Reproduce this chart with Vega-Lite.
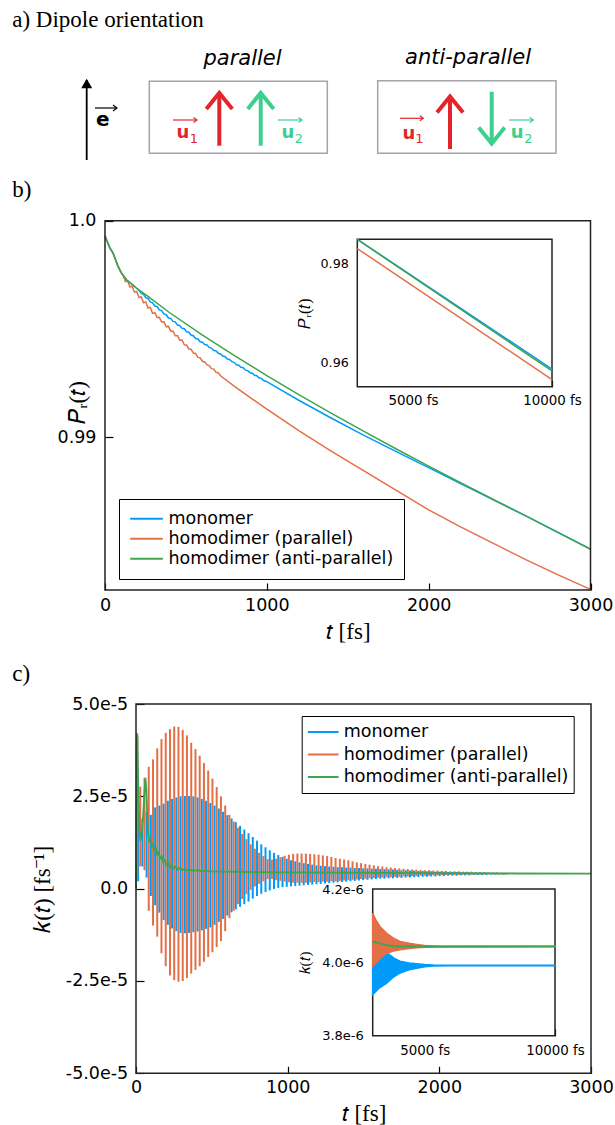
{
"$schema": "https://vega.github.io/schema/vega-lite/v6.json",
"width": 615, "height": 1125, "autosize": {"type": "none"}, "padding": 0, "background": "white",
"config": {
 "view": {"stroke": null},
 "axis": {"grid": false, "domain": false, "zindex": 1, "labelFont": "DejaVu Sans", "labelColor": "black", "tickColor": "black", "tickWidth": 1.2, "titleFont": "Liberation Serif", "titleColor": "black", "titleFontWeight": "normal", "labelFlush": false, "labelOverlap": false},
 "legend": {"labelFont": "DejaVu Sans", "labelColor": "black", "labelLimit": 400}
},
"datasets": {
 "arrows": [
  {"seg":"r1s","who":"u1","kind":"dipole","o":0,"x":21.93,"y":5.43},{"seg":"r1s","who":"u1","kind":"dipole","o":1,"x":21.93,"y":10.7},
  {"seg":"r1h","who":"u1","kind":"dipole","o":0,"x":20.63,"y":9.1},{"seg":"r1h","who":"u1","kind":"dipole","o":1,"x":21.93,"y":10.7},{"seg":"r1h","who":"u1","kind":"dipole","o":2,"x":23.23,"y":9.1},
  {"seg":"g1s","who":"u2","kind":"dipole","o":0,"x":26.07,"y":5.43},{"seg":"g1s","who":"u2","kind":"dipole","o":1,"x":26.07,"y":10.7},
  {"seg":"g1h","who":"u2","kind":"dipole","o":0,"x":24.77,"y":9.1},{"seg":"g1h","who":"u2","kind":"dipole","o":1,"x":26.07,"y":10.7},{"seg":"g1h","who":"u2","kind":"dipole","o":2,"x":27.37,"y":9.1},
  {"seg":"r2s","who":"u1","kind":"dipole","o":0,"x":45.0,"y":5.1},{"seg":"r2s","who":"u1","kind":"dipole","o":1,"x":45.0,"y":10.35},
  {"seg":"r2h","who":"u1","kind":"dipole","o":0,"x":43.7,"y":8.75},{"seg":"r2h","who":"u1","kind":"dipole","o":1,"x":45.0,"y":10.35},{"seg":"r2h","who":"u1","kind":"dipole","o":2,"x":46.3,"y":8.75},
  {"seg":"g2s","who":"u2","kind":"dipole","o":0,"x":49.17,"y":10.83},{"seg":"g2s","who":"u2","kind":"dipole","o":1,"x":49.17,"y":5.65},
  {"seg":"g2h","who":"u2","kind":"dipole","o":0,"x":47.87,"y":7.25},{"seg":"g2h","who":"u2","kind":"dipole","o":1,"x":49.17,"y":5.65},{"seg":"g2h","who":"u2","kind":"dipole","o":2,"x":50.47,"y":7.25},
  {"seg":"es","who":"e","kind":"field","o":0,"x":8.67,"y":4.0},{"seg":"es","who":"e","kind":"field","o":1,"x":8.67,"y":12.0},
  {"seg":"ev","who":"e","kind":"vec","o":0,"x":9.5,"y":9.2},{"seg":"ev","who":"e","kind":"vec","o":1,"x":11.7,"y":9.2},
  {"seg":"eh","who":"e","kind":"vec","o":0,"x":11.3,"y":9.5},{"seg":"eh","who":"e","kind":"vec","o":1,"x":11.7,"y":9.2},{"seg":"eh","who":"e","kind":"vec","o":2,"x":11.3,"y":8.9},
  {"seg":"u1a","who":"u1","kind":"vec","o":0,"x":17.3,"y":8.0},{"seg":"u1a","who":"u1","kind":"vec","o":1,"x":19.7,"y":8.0},
  {"seg":"u1ah","who":"u1","kind":"vec","o":0,"x":19.35,"y":8.25},{"seg":"u1ah","who":"u1","kind":"vec","o":1,"x":19.7,"y":8.0},{"seg":"u1ah","who":"u1","kind":"vec","o":2,"x":19.35,"y":7.75},
  {"seg":"u2a","who":"u2","kind":"vec","o":0,"x":27.8,"y":8.0},{"seg":"u2a","who":"u2","kind":"vec","o":1,"x":30.2,"y":8.0},
  {"seg":"u2ah","who":"u2","kind":"vec","o":0,"x":29.85,"y":8.25},{"seg":"u2ah","who":"u2","kind":"vec","o":1,"x":30.2,"y":8.0},{"seg":"u2ah","who":"u2","kind":"vec","o":2,"x":29.85,"y":7.75},
  {"seg":"u1b","who":"u1","kind":"vec","o":0,"x":40.0,"y":8.17},{"seg":"u1b","who":"u1","kind":"vec","o":1,"x":42.33,"y":8.17},
  {"seg":"u1bh","who":"u1","kind":"vec","o":0,"x":41.98,"y":8.42},{"seg":"u1bh","who":"u1","kind":"vec","o":1,"x":42.33,"y":8.17},{"seg":"u1bh","who":"u1","kind":"vec","o":2,"x":41.98,"y":7.92},
  {"seg":"u2b","who":"u2","kind":"vec","o":0,"x":50.9,"y":8.0},{"seg":"u2b","who":"u2","kind":"vec","o":1,"x":53.33,"y":8.0},
  {"seg":"u2bh","who":"u2","kind":"vec","o":0,"x":52.98,"y":8.25},{"seg":"u2bh","who":"u2","kind":"vec","o":1,"x":53.33,"y":8.0},{"seg":"u2bh","who":"u2","kind":"vec","o":2,"x":52.98,"y":7.75}
 ],
 "dlabels": [
  {"kind":"title","who":"e","x":24.25,"y":13.5,"text":"parallel"},
  {"kind":"title","who":"e","x":46.8,"y":13.6,"text":"anti-parallel"},
  {"kind":"field","who":"e","x":10.27,"y":7.4,"text":"e"},
  {"kind":"vector","who":"u1","x":18.3,"y":6.2,"text":"u"},
  {"kind":"vector","who":"u2","x":28.8,"y":6.17,"text":"u"},
  {"kind":"vector","who":"u1","x":40.9,"y":6.07,"text":"u"},
  {"kind":"vector","who":"u2","x":51.72,"y":6.2,"text":"u"},
  {"kind":"sub","who":"u1","x":19.4,"y":5.7,"text":"1"},
  {"kind":"sub","who":"u2","x":29.9,"y":5.73,"text":"2"},
  {"kind":"sub","who":"u1","x":41.95,"y":5.73,"text":"1"},
  {"kind":"sub","who":"u2","x":52.85,"y":5.7,"text":"2"}
 ],
 "boxes": [{"x":14.93,"x2":32.73,"y":4.67,"y2":11.87},{"x":37.77,"x2":55.6,"y":4.67,"y2":11.93}],
 "b_mono": [
  {"t":0,"P":0.99929},{"t":30,"P":0.99874},{"t":50,"P":0.9985},{"t":80,"P":0.9979},{"t":100,"P":0.9976},{"t":134,"P":0.99726},{"t":165,"P":0.99707},{"t":196,"P":0.99688},
  {"t":210,"P":0.99679},{"t":224,"P":0.99664},{"t":238,"P":0.9966},{"t":252,"P":0.99645},{"t":266,"P":0.99641},{"t":280,"P":0.99625},{"t":294,"P":0.99621},{"t":308,"P":0.99606},{"t":322,"P":0.99604},{"t":336,"P":0.99588},{"t":350,"P":0.99585},{"t":364,"P":0.9957},{"t":378,"P":0.99566},{"t":392,"P":0.99551},{"t":406,"P":0.99549},{"t":420,"P":0.99535},{"t":434,"P":0.99533},{"t":448,"P":0.99518},{"t":462,"P":0.99516},{"t":476,"P":0.99503},{"t":490,"P":0.99501},{"t":504,"P":0.99487},{"t":518,"P":0.99485},{"t":532,"P":0.99472},{"t":546,"P":0.99469},{"t":560,"P":0.99456},{"t":574,"P":0.99454},{"t":588,"P":0.99441},{"t":602,"P":0.99439},{"t":616,"P":0.99428},{"t":630,"P":0.99426},{"t":644,"P":0.99415},{"t":658,"P":0.99412},{"t":672,"P":0.99401},{"t":686,"P":0.99399},{"t":700,"P":0.99388},{"t":714,"P":0.99385},{"t":728,"P":0.99375},{"t":742,"P":0.99372},{"t":756,"P":0.99361},{"t":770,"P":0.99359},{"t":784,"P":0.99349},{"t":798,"P":0.99346},{"t":812,"P":0.99335},{"t":826,"P":0.99333},{"t":840,"P":0.99323},{"t":854,"P":0.99321},{"t":868,"P":0.9931},{"t":882,"P":0.99308},{"t":896,"P":0.99298},{"t":910,"P":0.99296},{"t":924,"P":0.99286},{"t":938,"P":0.99284},{"t":952,"P":0.99274},{"t":966,"P":0.99272},{"t":980,"P":0.99262},{"t":994,"P":0.99259},
  {"t":1200,"P":0.9917},{"t":1400,"P":0.99088},{"t":1600,"P":0.99009},{"t":1800,"P":0.98934},{"t":2000,"P":0.9886},{"t":2200,"P":0.98785},{"t":2400,"P":0.98711},{"t":2600,"P":0.98637},{"t":2800,"P":0.98561},{"t":3000,"P":0.98484}
 ],
 "b_par": [
  {"t":0,"P":0.99929},{"t":30,"P":0.99874},{"t":50,"P":0.9985},{"t":80,"P":0.9979},{"t":100,"P":0.9976},
  {"t":112,"P":0.99747},{"t":126,"P":0.99719},{"t":140,"P":0.99722},{"t":154,"P":0.99694},{"t":168,"P":0.99698},{"t":182,"P":0.9967},{"t":196,"P":0.99673},{"t":210,"P":0.99645},{"t":224,"P":0.99649},{"t":238,"P":0.99621},{"t":252,"P":0.99625},{"t":266,"P":0.99597},{"t":280,"P":0.996},{"t":294,"P":0.99572},{"t":308,"P":0.99575},{"t":322,"P":0.99553},{"t":336,"P":0.99554},{"t":350,"P":0.99532},{"t":364,"P":0.99533},{"t":378,"P":0.99511},{"t":392,"P":0.99512},{"t":406,"P":0.9949},{"t":420,"P":0.99491},{"t":434,"P":0.99469},{"t":448,"P":0.9947},{"t":462,"P":0.99448},{"t":476,"P":0.99449},{"t":490,"P":0.99427},{"t":504,"P":0.99426},{"t":518,"P":0.99408},{"t":532,"P":0.99407},{"t":546,"P":0.99389},{"t":560,"P":0.99387},{"t":574,"P":0.99369},{"t":588,"P":0.99367},{"t":602,"P":0.99351},{"t":616,"P":0.99348},{"t":630,"P":0.99334},{"t":644,"P":0.99331},{"t":658,"P":0.99317},{"t":672,"P":0.99315},{"t":686,"P":0.993},{"t":700,"P":0.99298},{"t":714,"P":0.99284},
  {"t":800,"P":0.99235},{"t":900,"P":0.99182},{"t":1000,"P":0.9913},{"t":1200,"P":0.9903},{"t":1400,"P":0.98935},{"t":1600,"P":0.98845},{"t":1800,"P":0.98755},{"t":2000,"P":0.98665},{"t":2200,"P":0.98585},{"t":2400,"P":0.9851},{"t":2600,"P":0.98435},{"t":2800,"P":0.98365},{"t":3000,"P":0.98298}
 ],
 "b_anti": [
  {"t":0,"P":0.99929},{"t":30,"P":0.99874},{"t":50,"P":0.9985},{"t":80,"P":0.9979},{"t":100,"P":0.9976},{"t":134,"P":0.99726},{"t":165,"P":0.99707},{"t":196,"P":0.99688},{"t":257,"P":0.99655},{"t":400,"P":0.99575},{"t":600,"P":0.99473},{"t":800,"P":0.99377},{"t":1000,"P":0.99285},{"t":1200,"P":0.99196},{"t":1400,"P":0.9911},{"t":1600,"P":0.99027},{"t":1800,"P":0.98946},{"t":2000,"P":0.98867},{"t":2200,"P":0.98789},{"t":2400,"P":0.98713},{"t":2600,"P":0.98637},{"t":2800,"P":0.9856},{"t":3000,"P":0.98483}
 ],
 "bi_mono": [{"t":3000,"P":0.98484},{"t":10000,"P":0.95867}],
 "bi_par": [{"t":3000,"P":0.98298},{"t":10000,"P":0.95654}],
 "bi_anti": [{"t":3000,"P":0.98483},{"t":10000,"P":0.95827}],
 "c_mono": [
  {"t":14,"lo":0.2e-5,"hi":2.3e-5},{"t":42,"lo":0.6e-5,"hi":1.9e-5},{"t":70,"lo":0.3e-5,"hi":2.1e-5},{"t":98,"lo":-0.2e-5,"hi":2.0e-5},{"t":126,"lo":-0.45e-5,"hi":2.2e-5},{"t":154,"lo":-0.65e-5,"hi":2.25e-5},{"t":182,"lo":-0.85e-5,"hi":2.3e-5},{"t":210,"lo":-0.98e-5,"hi":2.38e-5},{"t":238,"lo":-1.08e-5,"hi":2.43e-5},{"t":266,"lo":-1.15e-5,"hi":2.47e-5},{"t":294,"lo":-1.2e-5,"hi":2.5e-5},{"t":322,"lo":-1.21e-5,"hi":2.51e-5},{"t":350,"lo":-1.2e-5,"hi":2.51e-5},{"t":378,"lo":-1.18e-5,"hi":2.5e-5},{"t":406,"lo":-1.16e-5,"hi":2.47e-5},{"t":434,"lo":-1.13e-5,"hi":2.43e-5},{"t":462,"lo":-1.09e-5,"hi":2.38e-5},{"t":490,"lo":-1.05e-5,"hi":2.32e-5},{"t":518,"lo":-0.98e-5,"hi":2.25e-5},{"t":546,"lo":-0.9e-5,"hi":2.17e-5},{"t":574,"lo":-0.82e-5,"hi":2.08e-5},{"t":602,"lo":-0.73e-5,"hi":1.99e-5},{"t":630,"lo":-0.64e-5,"hi":1.9e-5},{"t":658,"lo":-0.56e-5,"hi":1.8e-5},{"t":686,"lo":-0.49e-5,"hi":1.7e-5},{"t":714,"lo":-0.42e-5,"hi":1.6e-5},{"t":742,"lo":-0.35e-5,"hi":1.5e-5},{"t":770,"lo":-0.27e-5,"hi":1.4e-5},{"t":798,"lo":-0.2e-5,"hi":1.3e-5},{"t":826,"lo":-0.14e-5,"hi":1.2e-5},{"t":854,"lo":-0.09e-5,"hi":1.12e-5},{"t":882,"lo":-0.05e-5,"hi":1.04e-5},{"t":910,"lo":-0.01e-5,"hi":0.97e-5},{"t":938,"lo":0.02e-5,"hi":0.91e-5},{"t":966,"lo":0.04e-5,"hi":0.86e-5},{"t":994,"lo":0.05e-5,"hi":0.81e-5},{"t":1022,"lo":0.06e-5,"hi":0.77e-5},{"t":1050,"lo":0.07e-5,"hi":0.74e-5},{"t":1078,"lo":0.08e-5,"hi":0.71e-5},{"t":1106,"lo":0.09e-5,"hi":0.69e-5},{"t":1134,"lo":0.1e-5,"hi":0.67e-5},{"t":1162,"lo":0.11e-5,"hi":0.65e-5},{"t":1190,"lo":0.12e-5,"hi":0.63e-5},{"t":1218,"lo":0.13e-5,"hi":0.62e-5},{"t":1246,"lo":0.14e-5,"hi":0.61e-5},{"t":1274,"lo":0.15e-5,"hi":0.6e-5},{"t":1302,"lo":0.16e-5,"hi":0.59e-5},{"t":1330,"lo":0.17e-5,"hi":0.58e-5},{"t":1358,"lo":0.18e-5,"hi":0.58e-5},{"t":1386,"lo":0.19e-5,"hi":0.57e-5},{"t":1414,"lo":0.2e-5,"hi":0.57e-5},{"t":1442,"lo":0.21e-5,"hi":0.56e-5},{"t":1470,"lo":0.22e-5,"hi":0.56e-5},{"t":1498,"lo":0.23e-5,"hi":0.55e-5},{"t":1526,"lo":0.24e-5,"hi":0.55e-5},{"t":1554,"lo":0.25e-5,"hi":0.54e-5},{"t":1582,"lo":0.26e-5,"hi":0.54e-5},{"t":1610,"lo":0.27e-5,"hi":0.53e-5},{"t":1638,"lo":0.27e-5,"hi":0.53e-5},{"t":1666,"lo":0.28e-5,"hi":0.52e-5},{"t":1694,"lo":0.28e-5,"hi":0.52e-5},{"t":1722,"lo":0.29e-5,"hi":0.51e-5},{"t":1750,"lo":0.29e-5,"hi":0.5e-5},{"t":1778,"lo":0.3e-5,"hi":0.5e-5},{"t":1806,"lo":0.3e-5,"hi":0.49e-5},{"t":1834,"lo":0.31e-5,"hi":0.49e-5},{"t":1862,"lo":0.31e-5,"hi":0.48e-5},{"t":1890,"lo":0.32e-5,"hi":0.48e-5},{"t":1918,"lo":0.32e-5,"hi":0.47e-5},{"t":1946,"lo":0.33e-5,"hi":0.47e-5},{"t":1974,"lo":0.33e-5,"hi":0.46e-5},{"t":2002,"lo":0.34e-5,"hi":0.46e-5},{"t":2030,"lo":0.34e-5,"hi":0.46e-5},{"t":2058,"lo":0.35e-5,"hi":0.45e-5},{"t":2086,"lo":0.35e-5,"hi":0.45e-5},{"t":2114,"lo":0.35e-5,"hi":0.45e-5},{"t":2142,"lo":0.36e-5,"hi":0.44e-5},{"t":2170,"lo":0.36e-5,"hi":0.44e-5},{"t":2198,"lo":0.36e-5,"hi":0.44e-5},{"t":2226,"lo":0.37e-5,"hi":0.43e-5},{"t":2254,"lo":0.37e-5,"hi":0.43e-5},{"t":2282,"lo":0.37e-5,"hi":0.43e-5},{"t":2310,"lo":0.37e-5,"hi":0.43e-5},{"t":2338,"lo":0.38e-5,"hi":0.42e-5},{"t":2366,"lo":0.38e-5,"hi":0.42e-5},{"t":2394,"lo":0.38e-5,"hi":0.42e-5},{"t":2422,"lo":0.38e-5,"hi":0.42e-5},{"t":2450,"lo":0.39e-5,"hi":0.41e-5}
 ],
 "c_par": [
  {"t":8,"lo":0.3e-5,"hi":4.2e-5},{"t":28,"lo":0.6e-5,"hi":2.76e-5},{"t":56,"lo":0.5e-5,"hi":3.0e-5},{"t":84,"lo":-0.6e-5,"hi":3.3e-5},{"t":112,"lo":-1.0e-5,"hi":3.5e-5},{"t":140,"lo":-1.3e-5,"hi":3.8e-5},{"t":168,"lo":-1.75e-5,"hi":4.05e-5},{"t":196,"lo":-2.1e-5,"hi":4.22e-5},{"t":224,"lo":-2.35e-5,"hi":4.32e-5},{"t":252,"lo":-2.48e-5,"hi":4.39e-5},{"t":280,"lo":-2.52e-5,"hi":4.38e-5},{"t":308,"lo":-2.5e-5,"hi":4.3e-5},{"t":336,"lo":-2.42e-5,"hi":4.15e-5},{"t":364,"lo":-2.3e-5,"hi":3.95e-5},{"t":392,"lo":-2.2e-5,"hi":3.78e-5},{"t":420,"lo":-2.1e-5,"hi":3.6e-5},{"t":448,"lo":-1.98e-5,"hi":3.4e-5},{"t":476,"lo":-1.85e-5,"hi":3.2e-5},{"t":504,"lo":-1.72e-5,"hi":2.98e-5},{"t":532,"lo":-1.58e-5,"hi":2.75e-5},{"t":560,"lo":-1.42e-5,"hi":2.5e-5},{"t":588,"lo":-1.15e-5,"hi":2.25e-5},{"t":616,"lo":-0.8e-5,"hi":2.0e-5},{"t":644,"lo":-0.6e-5,"hi":1.82e-5},{"t":672,"lo":-0.42e-5,"hi":1.65e-5},{"t":700,"lo":-0.28e-5,"hi":1.48e-5},{"t":728,"lo":-0.15e-5,"hi":1.34e-5},{"t":756,"lo":-0.03e-5,"hi":1.2e-5},{"t":784,"lo":0.06e-5,"hi":1.08e-5},{"t":812,"lo":0.13e-5,"hi":0.97e-5},{"t":840,"lo":0.2e-5,"hi":0.88e-5},{"t":868,"lo":0.26e-5,"hi":0.8e-5},{"t":896,"lo":0.26e-5,"hi":0.79e-5},{"t":924,"lo":0.23e-5,"hi":0.81e-5},{"t":952,"lo":0.21e-5,"hi":0.85e-5},{"t":980,"lo":0.19e-5,"hi":0.89e-5},{"t":1008,"lo":0.17e-5,"hi":0.92e-5},{"t":1036,"lo":0.16e-5,"hi":0.94e-5},{"t":1064,"lo":0.16e-5,"hi":0.95e-5},{"t":1092,"lo":0.16e-5,"hi":0.95e-5},{"t":1120,"lo":0.16e-5,"hi":0.95e-5},{"t":1148,"lo":0.17e-5,"hi":0.94e-5},{"t":1176,"lo":0.18e-5,"hi":0.93e-5},{"t":1204,"lo":0.18e-5,"hi":0.92e-5},{"t":1232,"lo":0.19e-5,"hi":0.9e-5},{"t":1260,"lo":0.19e-5,"hi":0.88e-5},{"t":1288,"lo":0.2e-5,"hi":0.86e-5},{"t":1316,"lo":0.2e-5,"hi":0.83e-5},{"t":1344,"lo":0.21e-5,"hi":0.81e-5},{"t":1372,"lo":0.22e-5,"hi":0.79e-5},{"t":1400,"lo":0.23e-5,"hi":0.77e-5},{"t":1428,"lo":0.24e-5,"hi":0.74e-5},{"t":1456,"lo":0.25e-5,"hi":0.71e-5},{"t":1484,"lo":0.26e-5,"hi":0.69e-5},{"t":1512,"lo":0.27e-5,"hi":0.67e-5},{"t":1540,"lo":0.28e-5,"hi":0.65e-5},{"t":1568,"lo":0.29e-5,"hi":0.63e-5},{"t":1596,"lo":0.3e-5,"hi":0.61e-5},{"t":1624,"lo":0.3e-5,"hi":0.6e-5},{"t":1652,"lo":0.31e-5,"hi":0.58e-5},{"t":1680,"lo":0.31e-5,"hi":0.57e-5},{"t":1708,"lo":0.32e-5,"hi":0.56e-5},{"t":1736,"lo":0.32e-5,"hi":0.55e-5},{"t":1764,"lo":0.33e-5,"hi":0.54e-5},{"t":1792,"lo":0.33e-5,"hi":0.53e-5},{"t":1820,"lo":0.34e-5,"hi":0.52e-5},{"t":1848,"lo":0.34e-5,"hi":0.51e-5},{"t":1876,"lo":0.35e-5,"hi":0.51e-5},{"t":1904,"lo":0.35e-5,"hi":0.5e-5},{"t":1932,"lo":0.35e-5,"hi":0.5e-5},{"t":1960,"lo":0.36e-5,"hi":0.49e-5},{"t":1988,"lo":0.36e-5,"hi":0.49e-5},{"t":2016,"lo":0.36e-5,"hi":0.48e-5},{"t":2044,"lo":0.37e-5,"hi":0.48e-5},{"t":2072,"lo":0.37e-5,"hi":0.47e-5},{"t":2100,"lo":0.37e-5,"hi":0.47e-5},{"t":2128,"lo":0.37e-5,"hi":0.47e-5},{"t":2156,"lo":0.38e-5,"hi":0.46e-5},{"t":2184,"lo":0.38e-5,"hi":0.46e-5},{"t":2212,"lo":0.38e-5,"hi":0.46e-5},{"t":2240,"lo":0.38e-5,"hi":0.45e-5},{"t":2268,"lo":0.38e-5,"hi":0.45e-5},{"t":2296,"lo":0.39e-5,"hi":0.45e-5},{"t":2324,"lo":0.39e-5,"hi":0.44e-5},{"t":2352,"lo":0.39e-5,"hi":0.44e-5},{"t":2380,"lo":0.39e-5,"hi":0.44e-5},{"t":2408,"lo":0.39e-5,"hi":0.43e-5},{"t":2436,"lo":0.39e-5,"hi":0.43e-5},{"t":2464,"lo":0.4e-5,"hi":0.43e-5},{"t":2492,"lo":0.4e-5,"hi":0.43e-5},{"t":2520,"lo":0.4e-5,"hi":0.42e-5},{"t":2548,"lo":0.4e-5,"hi":0.42e-5},{"t":2576,"lo":0.4e-5,"hi":0.42e-5},{"t":2604,"lo":0.4e-5,"hi":0.42e-5}
 ],
 "c_anti": [
  {"t":0,"k":0},{"t":6,"k":4.2e-5},{"t":10,"k":4.1e-5},{"t":16,"k":2.5e-5},{"t":22,"k":1.6e-5},{"t":30,"k":1.3e-5},{"t":38,"k":1.5e-5},{"t":46,"k":1.9e-5},{"t":54,"k":2.5e-5},{"t":62,"k":3.0e-5},{"t":68,"k":2.7e-5},{"t":74,"k":2.0e-5},{"t":80,"k":1.5e-5},{"t":88,"k":1.25e-5},{"t":96,"k":1.35e-5},{"t":104,"k":1.15e-5},{"t":112,"k":1.2e-5},{"t":120,"k":1.05e-5},{"t":130,"k":1.1e-5},{"t":140,"k":0.92e-5},{"t":150,"k":0.98e-5},{"t":160,"k":0.82e-5},{"t":170,"k":0.87e-5},{"t":180,"k":0.72e-5},{"t":190,"k":0.77e-5},{"t":200,"k":0.64e-5},{"t":212,"k":0.7e-5},{"t":224,"k":0.58e-5},{"t":236,"k":0.64e-5},{"t":248,"k":0.55e-5},{"t":260,"k":0.6e-5},{"t":275,"k":0.52e-5},{"t":290,"k":0.56e-5},{"t":305,"k":0.5e-5},{"t":320,"k":0.53e-5},{"t":340,"k":0.49e-5},{"t":360,"k":0.51e-5},{"t":380,"k":0.48e-5},{"t":400,"k":0.5e-5},{"t":430,"k":0.47e-5},{"t":460,"k":0.49e-5},{"t":500,"k":0.47e-5},{"t":600,"k":0.46e-5},{"t":800,"k":0.45e-5},{"t":1000,"k":0.44e-5},{"t":1500,"k":0.43e-5},{"t":2000,"k":0.42e-5},{"t":2500,"k":0.41e-5},{"t":3000,"k":0.405e-5}
 ],
 "ci_mono": [
  {"t":3000,"lo":3.912e-6,"hi":3.99e-6},{"t":3250,"lo":3.93e-6,"hi":4.01e-6},{"t":3538,"lo":3.943e-6,"hi":4.027e-6},{"t":3800,"lo":3.96e-6,"hi":4.012e-6},{"t":4048,"lo":3.971e-6,"hi":4.003e-6},{"t":4400,"lo":3.98e-6,"hi":3.998e-6},{"t":4690,"lo":3.984e-6,"hi":3.996e-6},{"t":5000,"lo":3.988e-6,"hi":3.994e-6},{"t":5327,"lo":3.99e-6,"hi":3.993e-6},{"t":6000,"lo":3.991e-6,"hi":3.992e-6},{"t":10000,"lo":3.991e-6,"hi":3.992e-6}
 ],
 "ci_par": [
  {"t":3000,"lo":3.989e-6,"hi":4.134e-6},{"t":3150,"lo":4.0e-6,"hi":4.112e-6},{"t":3287,"lo":4.011e-6,"hi":4.097e-6},{"t":3538,"lo":4.025e-6,"hi":4.079e-6},{"t":3800,"lo":4.031e-6,"hi":4.066e-6},{"t":4048,"lo":4.034e-6,"hi":4.057e-6},{"t":4400,"lo":4.038e-6,"hi":4.052e-6},{"t":4690,"lo":4.04e-6,"hi":4.049e-6},{"t":5000,"lo":4.041e-6,"hi":4.046e-6},{"t":5500,"lo":4.042e-6,"hi":4.044e-6},{"t":10000,"lo":4.043e-6,"hi":4.044e-6}
 ],
 "ci_anti": [
  {"t":3000,"k":4.057e-6},{"t":3200,"k":4.053e-6},{"t":3400,"k":4.049e-6},{"t":3600,"k":4.046e-6},{"t":3800,"k":4.044e-6},{"t":4000,"k":4.043e-6},{"t":10000,"k":4.043e-6}
 ]
},
"layer": [
 {
  "layer": [
   {"data": {"name": "boxes"}, "mark": {"type": "rect", "filled": false, "stroke": "#a4a4ac", "strokeWidth": 1.5},
    "encoding": {
     "x": {"field": "x", "type": "quantitative", "scale": {"domain": [0, 61.5], "range": [0, 615], "nice": false, "zero": false},
       "axis": {"orient": "top", "offset": 0, "labels": false, "ticks": false, "domain": false, "title": "a) Dipole orientation", "titleX": 11.7, "titleY": 26.7, "titleAlign": "left", "titleAnchor": "start", "titleBaseline": "alphabetic", "titleFontSize": 23}},
     "x2": {"field": "x2"},
     "y": {"field": "y", "type": "quantitative", "scale": {"domain": [0, 20], "range": [200, 0], "nice": false, "zero": false}, "axis": null},
     "y2": {"field": "y2"}}},
   {"data": {"name": "arrows"}, "transform": [{"filter": "datum.kind == 'dipole'"}],
    "mark": {"type": "line", "strokeWidth": 4, "strokeJoin": "miter", "strokeCap": "butt"},
    "encoding": {
     "x": {"field": "x", "type": "quantitative", "scale": {"domain": [0, 61.5], "range": [0, 615], "nice": false, "zero": false}, "axis": null},
     "y": {"field": "y", "type": "quantitative", "scale": {"domain": [0, 20], "range": [200, 0], "nice": false, "zero": false}, "axis": null},
     "detail": {"field": "seg"}, "order": {"field": "o", "type": "quantitative"},
     "color": {"field": "who", "type": "nominal", "scale": {"domain": ["u1", "u2", "e"], "range": ["#e3262c", "#3ccf8e", "#000000"]}, "legend": null}}},
   {"data": {"name": "arrows"}, "transform": [{"filter": "datum.kind == 'field'"}],
    "mark": {"type": "line", "strokeWidth": 1.8},
    "encoding": {
     "x": {"field": "x", "type": "quantitative", "scale": {"domain": [0, 61.5], "range": [0, 615], "nice": false, "zero": false}, "axis": null},
     "y": {"field": "y", "type": "quantitative", "scale": {"domain": [0, 20], "range": [200, 0], "nice": false, "zero": false}, "axis": null},
     "detail": {"field": "seg"}, "order": {"field": "o", "type": "quantitative"},
     "color": {"field": "who", "type": "nominal", "scale": {"domain": ["u1", "u2", "e"], "range": ["#e3262c", "#3ccf8e", "#000000"]}, "legend": null}}},
   {"data": {"name": "arrows"}, "transform": [{"filter": "datum.kind == 'field' && datum.o == 1"}],
    "mark": {"type": "point", "shape": "triangle-up", "filled": true, "size": 121, "opacity": 1, "yOffset": 3.5},
    "encoding": {
     "x": {"field": "x", "type": "quantitative", "scale": {"domain": [0, 61.5], "range": [0, 615], "nice": false, "zero": false}, "axis": null},
     "y": {"field": "y", "type": "quantitative", "scale": {"domain": [0, 20], "range": [200, 0], "nice": false, "zero": false}, "axis": null},
     "color": {"field": "who", "type": "nominal", "scale": {"domain": ["u1", "u2", "e"], "range": ["#e3262c", "#3ccf8e", "#000000"]}, "legend": null}}},
   {"data": {"name": "arrows"}, "transform": [{"filter": "datum.kind == 'vec'"}],
    "mark": {"type": "line", "strokeWidth": 1.2},
    "encoding": {
     "x": {"field": "x", "type": "quantitative", "scale": {"domain": [0, 61.5], "range": [0, 615], "nice": false, "zero": false}, "axis": null},
     "y": {"field": "y", "type": "quantitative", "scale": {"domain": [0, 20], "range": [200, 0], "nice": false, "zero": false}, "axis": null},
     "detail": {"field": "seg"}, "order": {"field": "o", "type": "quantitative"},
     "color": {"field": "who", "type": "nominal", "scale": {"domain": ["u1", "u2", "e"], "range": ["#e3262c", "#3ccf8e", "#000000"]}, "legend": null}}},
   {"data": {"name": "dlabels"}, "transform": [{"filter": "datum.kind == 'title'"}],
    "mark": {"type": "text", "font": "DejaVu Sans", "fontStyle": "italic", "fontSize": 21, "align": "center", "baseline": "alphabetic"},
    "encoding": {
     "x": {"field": "x", "type": "quantitative", "scale": {"domain": [0, 61.5], "range": [0, 615], "nice": false, "zero": false}, "axis": null},
     "y": {"field": "y", "type": "quantitative", "scale": {"domain": [0, 20], "range": [200, 0], "nice": false, "zero": false}, "axis": null},
     "text": {"field": "text"},
     "color": {"field": "who", "type": "nominal", "scale": {"domain": ["u1", "u2", "e"], "range": ["#e3262c", "#3ccf8e", "#000000"]}, "legend": null}}},
   {"data": {"name": "dlabels"}, "transform": [{"filter": "datum.kind == 'field'"}],
    "mark": {"type": "text", "font": "DejaVu Sans", "fontWeight": "bold", "fontSize": 20, "align": "center", "baseline": "alphabetic"},
    "encoding": {
     "x": {"field": "x", "type": "quantitative", "scale": {"domain": [0, 61.5], "range": [0, 615], "nice": false, "zero": false}, "axis": null},
     "y": {"field": "y", "type": "quantitative", "scale": {"domain": [0, 20], "range": [200, 0], "nice": false, "zero": false}, "axis": null},
     "text": {"field": "text"},
     "color": {"field": "who", "type": "nominal", "scale": {"domain": ["u1", "u2", "e"], "range": ["#e3262c", "#3ccf8e", "#000000"]}, "legend": null}}},
   {"data": {"name": "dlabels"}, "transform": [{"filter": "datum.kind == 'vector'"}],
    "mark": {"type": "text", "font": "DejaVu Sans", "fontWeight": "bold", "fontSize": 18, "align": "center", "baseline": "alphabetic"},
    "encoding": {
     "x": {"field": "x", "type": "quantitative", "scale": {"domain": [0, 61.5], "range": [0, 615], "nice": false, "zero": false}, "axis": null},
     "y": {"field": "y", "type": "quantitative", "scale": {"domain": [0, 20], "range": [200, 0], "nice": false, "zero": false}, "axis": null},
     "text": {"field": "text"},
     "color": {"field": "who", "type": "nominal", "scale": {"domain": ["u1", "u2", "e"], "range": ["#e3262c", "#3ccf8e", "#000000"]}, "legend": null}}},
   {"data": {"name": "dlabels"}, "transform": [{"filter": "datum.kind == 'sub'"}],
    "mark": {"type": "text", "font": "DejaVu Sans", "fontSize": 13, "align": "center", "baseline": "alphabetic"},
    "encoding": {
     "x": {"field": "x", "type": "quantitative", "scale": {"domain": [0, 61.5], "range": [0, 615], "nice": false, "zero": false}, "axis": null},
     "y": {"field": "y", "type": "quantitative", "scale": {"domain": [0, 20], "range": [200, 0], "nice": false, "zero": false}, "axis": null},
     "text": {"field": "text"},
     "color": {"field": "who", "type": "nominal", "scale": {"domain": ["u1", "u2", "e"], "range": ["#e3262c", "#3ccf8e", "#000000"]}, "legend": null}}}
  ],
  "resolve": {"axis": {"x": "independent", "y": "independent"}}
 },
 {
  "layer": [
   {"data": {"name": "b_mono"}, "mark": {"type": "line", "strokeWidth": 1.5},
    "encoding": {
     "x": {"field": "t", "type": "quantitative", "scale": {"domain": [0, 3000], "range": [105, 590.5], "nice": false, "zero": false},
       "axis": {"orient": "bottom", "offset": -535, "values": [0, 1000, 2000, 3000], "format": "d", "tickSize": -7, "labelPadding": 13.5, "labelFontSize": 17.5, "title": "𝑡 [fs]", "titleX": 347.7, "titleY": 48, "titleAlign": "center", "titleBaseline": "alphabetic", "titleFontSize": 23}},
     "y": {"field": "P", "type": "quantitative", "scale": {"domain": [0.98295, 1], "range": [590, 220.7], "nice": false, "zero": false},
       "axis": {"orient": "left", "offset": -105, "values": [0.99, 1], "labelExpr": "datum.value == 1 ? '1.0' : format(datum.value, '.2f')", "tickSize": -8, "labelPadding": 17, "labelFontSize": 17.5, "title": "𝑃ᵣ(𝑡)", "titleX": -28, "titleY": 402, "titleAngle": -90, "titleAlign": "center", "titleBaseline": "middle", "titleFontSize": 23}},
     "color": {"datum": "monomer", "type": "nominal", "scale": {"domain": ["monomer", "homodimer (parallel)", "homodimer (anti-parallel)"], "range": ["#009AFA", "#E36F47", "#3EA44E"]},
       "legend": {"title": null, "orient": "none", "legendX": 119, "legendY": 499, "symbolType": "stroke", "symbolSize": 1060, "symbolStrokeWidth": 1.8, "labelFontSize": 17.5, "labelOffset": 4.5, "padding": 10, "clipHeight": 19.5, "rowPadding": 0, "strokeColor": "black", "fillColor": "white", "labelLimit": 400}}}},
   {"data": {"name": "b_par"}, "mark": {"type": "line", "strokeWidth": 1.5},
    "encoding": {
     "x": {"field": "t", "type": "quantitative", "scale": {"domain": [0, 3000], "range": [105, 590.5], "nice": false, "zero": false}, "axis": null},
     "y": {"field": "P", "type": "quantitative", "scale": {"domain": [0.98295, 1], "range": [590, 220.7], "nice": false, "zero": false}, "axis": null},
     "color": {"datum": "homodimer (parallel)", "type": "nominal", "scale": {"domain": ["monomer", "homodimer (parallel)", "homodimer (anti-parallel)"], "range": ["#009AFA", "#E36F47", "#3EA44E"]}, "legend": null}}},
   {"data": {"name": "b_anti"}, "mark": {"type": "line", "strokeWidth": 1.5},
    "encoding": {
     "x": {"field": "t", "type": "quantitative", "scale": {"domain": [0, 3000], "range": [105, 590.5], "nice": false, "zero": false}, "axis": null},
     "y": {"field": "P", "type": "quantitative", "scale": {"domain": [0.98295, 1], "range": [590, 220.7], "nice": false, "zero": false}, "axis": null},
     "color": {"datum": "homodimer (anti-parallel)", "type": "nominal", "scale": {"domain": ["monomer", "homodimer (parallel)", "homodimer (anti-parallel)"], "range": ["#009AFA", "#E36F47", "#3EA44E"]}, "legend": null}}},
   {"data": {"values": [{}]}, "mark": {"type": "rect", "filled": false, "stroke": "#222222", "strokeWidth": 1.5},
    "encoding": {
     "x": {"datum": 0, "type": "quantitative", "scale": {"domain": [0, 3000], "range": [105, 590.5], "nice": false, "zero": false},
       "axis": {"orient": "top", "offset": 0, "labels": false, "ticks": false, "domain": false, "title": "b)", "titleX": 11.7, "titleY": 196, "titleAlign": "left", "titleAnchor": "start", "titleBaseline": "alphabetic", "titleFontSize": 23}},
     "x2": {"datum": 3000},
     "y": {"datum": 0.98295, "type": "quantitative", "scale": {"domain": [0.98295, 1], "range": [590, 220.7], "nice": false, "zero": false}, "axis": null},
     "y2": {"datum": 1}}}
  ],
  "resolve": {"axis": {"x": "independent", "y": "independent"}}
 },
 {
  "layer": [
   {"data": {"values": [{}]}, "mark": {"type": "rect", "fill": "white", "stroke": "#222222", "strokeWidth": 1.5},
    "encoding": {
     "x": {"datum": 3000, "type": "quantitative", "scale": {"domain": [3000, 10000], "range": [357.3, 552], "nice": false, "zero": false},
       "axis": {"orient": "bottom", "offset": -738.3, "values": [5000, 10000], "labelExpr": "datum.value + ' fs'", "tickSize": -6.5, "labelPadding": 13.5, "labelFontSize": 13.4, "title": null}},
     "x2": {"datum": 10000},
     "y": {"datum": 0.9551, "type": "quantitative", "scale": {"domain": [0.9551, 0.98485], "range": [386.7, 239.3], "nice": false, "zero": false},
       "axis": {"orient": "left", "offset": -357.3, "values": [0.96, 0.98], "format": ".2f", "tickSize": -7.5, "labelPadding": 16.5, "labelFontSize": 12.7, "title": "𝑃ᵣ(𝑡)", "titleX": -53.3, "titleY": 313, "titleAngle": -90, "titleAlign": "center", "titleBaseline": "middle", "titleFontSize": 16}},
     "y2": {"datum": 0.98485}}},
   {"data": {"name": "bi_mono"}, "mark": {"type": "line", "strokeWidth": 1.5, "color": "#009AFA"},
    "encoding": {
     "x": {"field": "t", "type": "quantitative", "scale": {"domain": [3000, 10000], "range": [357.3, 552], "nice": false, "zero": false}, "axis": null},
     "y": {"field": "P", "type": "quantitative", "scale": {"domain": [0.9551, 0.98485], "range": [386.7, 239.3], "nice": false, "zero": false}, "axis": null}}},
   {"data": {"name": "bi_par"}, "mark": {"type": "line", "strokeWidth": 1.5, "color": "#E36F47"},
    "encoding": {
     "x": {"field": "t", "type": "quantitative", "scale": {"domain": [3000, 10000], "range": [357.3, 552], "nice": false, "zero": false}, "axis": null},
     "y": {"field": "P", "type": "quantitative", "scale": {"domain": [0.9551, 0.98485], "range": [386.7, 239.3], "nice": false, "zero": false}, "axis": null}}},
   {"data": {"name": "bi_anti"}, "mark": {"type": "line", "strokeWidth": 1.5, "color": "#3EA44E"},
    "encoding": {
     "x": {"field": "t", "type": "quantitative", "scale": {"domain": [3000, 10000], "range": [357.3, 552], "nice": false, "zero": false}, "axis": null},
     "y": {"field": "P", "type": "quantitative", "scale": {"domain": [0.9551, 0.98485], "range": [386.7, 239.3], "nice": false, "zero": false}, "axis": null}}}
  ],
  "resolve": {"axis": {"x": "independent", "y": "independent"}}
 },
 {
  "layer": [
   {"data": {"name": "c_mono"}, "mark": {"type": "rule", "strokeWidth": 2},
    "encoding": {
     "x": {"field": "t", "type": "quantitative", "scale": {"domain": [0, 3000], "range": [136, 591], "nice": false, "zero": false},
       "axis": {"orient": "bottom", "offset": -51.7, "values": [0, 1000, 2000, 3000], "format": "d", "tickSize": -7, "labelPadding": 12, "labelFontSize": 17.5, "title": "𝑡 [fs]", "titleX": 363.5, "titleY": 47, "titleAlign": "center", "titleBaseline": "alphabetic", "titleFontSize": 23}},
     "y": {"field": "lo", "type": "quantitative", "scale": {"domain": [-5e-5, 5e-5], "range": [1073.3, 704], "nice": false, "zero": false},
       "axis": {"orient": "left", "offset": -136, "values": [-5e-5, -2.5e-5, 0, 2.5e-5, 5e-5], "labelExpr": "datum.value == 0 ? '0.0' : (datum.value < 0 ? '-' : '') + format(abs(datum.value), '.1e')", "tickSize": -8, "labelPadding": 16.3, "labelFontSize": 17.5, "title": "𝑘(𝑡) [fs⁻¹]", "titleX": -94, "titleY": 888.7, "titleAngle": -90, "titleAlign": "center", "titleBaseline": "middle", "titleFontSize": 23}},
     "y2": {"field": "hi"},
     "color": {"datum": "monomer", "type": "nominal", "scale": {"domain": ["monomer", "homodimer (parallel)", "homodimer (anti-parallel)"], "range": ["#009AFA", "#E36F47", "#3EA44E"]},
       "legend": {"title": null, "orient": "none", "legendX": 301.7, "legendY": 716, "symbolType": "stroke", "symbolSize": 942, "symbolStrokeWidth": 1.8, "labelFontSize": 17.5, "labelOffset": 4, "padding": 5, "clipHeight": 22, "rowPadding": 0.5, "strokeColor": "black", "fillColor": "white", "labelLimit": 400}}}},
   {"data": {"name": "c_par"}, "mark": {"type": "rule", "strokeWidth": 2},
    "encoding": {
     "x": {"field": "t", "type": "quantitative", "scale": {"domain": [0, 3000], "range": [136, 591], "nice": false, "zero": false}, "axis": null},
     "y": {"field": "lo", "type": "quantitative", "scale": {"domain": [-5e-5, 5e-5], "range": [1073.3, 704], "nice": false, "zero": false}, "axis": null},
     "y2": {"field": "hi"},
     "color": {"datum": "homodimer (parallel)", "type": "nominal", "scale": {"domain": ["monomer", "homodimer (parallel)", "homodimer (anti-parallel)"], "range": ["#009AFA", "#E36F47", "#3EA44E"]}, "legend": null}}},
   {"data": {"name": "c_anti"}, "mark": {"type": "line", "strokeWidth": 1.8},
    "encoding": {
     "x": {"field": "t", "type": "quantitative", "scale": {"domain": [0, 3000], "range": [136, 591], "nice": false, "zero": false}, "axis": null},
     "y": {"field": "k", "type": "quantitative", "scale": {"domain": [-5e-5, 5e-5], "range": [1073.3, 704], "nice": false, "zero": false}, "axis": null},
     "color": {"datum": "homodimer (anti-parallel)", "type": "nominal", "scale": {"domain": ["monomer", "homodimer (parallel)", "homodimer (anti-parallel)"], "range": ["#009AFA", "#E36F47", "#3EA44E"]}, "legend": null}}},
   {"data": {"values": [{}]}, "mark": {"type": "rect", "filled": false, "stroke": "#222222", "strokeWidth": 1.5},
    "encoding": {
     "x": {"datum": 0, "type": "quantitative", "scale": {"domain": [0, 3000], "range": [136, 591], "nice": false, "zero": false},
       "axis": {"orient": "top", "offset": 0, "labels": false, "ticks": false, "domain": false, "title": "c)", "titleX": 11.7, "titleY": 680, "titleAlign": "left", "titleAnchor": "start", "titleBaseline": "alphabetic", "titleFontSize": 23}},
     "x2": {"datum": 3000},
     "y": {"datum": -5e-5, "type": "quantitative", "scale": {"domain": [-5e-5, 5e-5], "range": [1073.3, 704], "nice": false, "zero": false}, "axis": null},
     "y2": {"datum": 5e-5}}}
  ],
  "resolve": {"axis": {"x": "independent", "y": "independent"}}
 },
 {
  "layer": [
   {"data": {"values": [{}]}, "mark": {"type": "rect", "fill": "white", "stroke": "#222222", "strokeWidth": 1.5},
    "encoding": {
     "x": {"datum": 3000, "type": "quantitative", "scale": {"domain": [3000, 10000], "range": [372.7, 555], "nice": false, "zero": false},
       "axis": {"orient": "bottom", "offset": -89.3, "values": [5000, 10000], "labelExpr": "datum.value + ' fs'", "tickSize": -7, "labelPadding": 15, "labelFontSize": 13.4, "title": null}},
     "x2": {"datum": 10000},
     "y": {"datum": 3.8e-6, "type": "quantitative", "scale": {"domain": [3.8e-6, 4.2e-6], "range": [1035.7, 889], "nice": false, "zero": false},
       "axis": {"orient": "left", "offset": -372.7, "values": [3.8e-6, 4.0e-6, 4.2e-6], "labelExpr": "format(datum.value, '.1e')", "ticks": false, "labelPadding": 9.4, "labelFontSize": 13, "title": "𝑘(𝑡)", "titleX": -68.7, "titleY": 962.4, "titleAngle": -90, "titleAlign": "center", "titleBaseline": "middle", "titleFontSize": 15}},
     "y2": {"datum": 4.2e-6}}},
   {"data": {"name": "ci_mono"}, "mark": {"type": "area", "color": "#009AFA", "stroke": "#009AFA", "strokeWidth": 1.5, "opacity": 1},
    "encoding": {
     "x": {"field": "t", "type": "quantitative", "scale": {"domain": [3000, 10000], "range": [372.7, 555], "nice": false, "zero": false}, "axis": null},
     "y": {"field": "lo", "type": "quantitative", "scale": {"domain": [3.8e-6, 4.2e-6], "range": [1035.7, 889], "nice": false, "zero": false}, "axis": null},
     "y2": {"field": "hi"}}},
   {"data": {"name": "ci_par"}, "mark": {"type": "area", "color": "#E36F47", "stroke": "#E36F47", "strokeWidth": 1.5, "opacity": 1},
    "encoding": {
     "x": {"field": "t", "type": "quantitative", "scale": {"domain": [3000, 10000], "range": [372.7, 555], "nice": false, "zero": false}, "axis": null},
     "y": {"field": "lo", "type": "quantitative", "scale": {"domain": [3.8e-6, 4.2e-6], "range": [1035.7, 889], "nice": false, "zero": false}, "axis": null},
     "y2": {"field": "hi"}}},
   {"data": {"name": "ci_anti"}, "mark": {"type": "line", "strokeWidth": 2, "color": "#3EA44E"},
    "encoding": {
     "x": {"field": "t", "type": "quantitative", "scale": {"domain": [3000, 10000], "range": [372.7, 555], "nice": false, "zero": false}, "axis": null},
     "y": {"field": "k", "type": "quantitative", "scale": {"domain": [3.8e-6, 4.2e-6], "range": [1035.7, 889], "nice": false, "zero": false}, "axis": null}}}
  ],
  "resolve": {"axis": {"x": "independent", "y": "independent"}}
 }
],
"resolve": {"scale": {"x": "independent", "y": "independent", "color": "independent"}, "axis": {"x": "independent", "y": "independent"}, "legend": {"color": "independent"}}
}
